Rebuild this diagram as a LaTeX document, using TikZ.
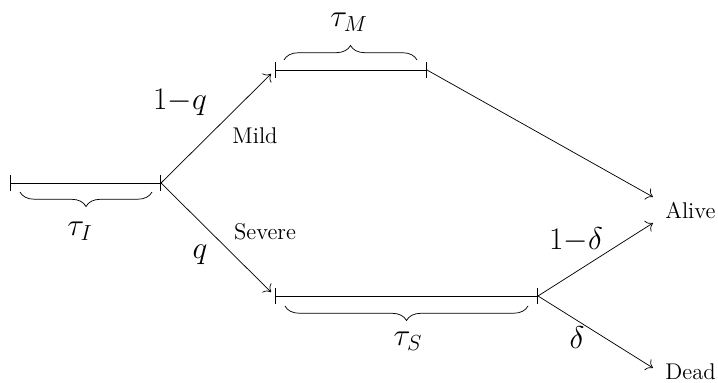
\documentclass[tikz,border=0pt]{standalone}
\usepackage{amsmath,amssymb}
\usetikzlibrary{arrows.meta, positioning, calc, decorations.pathreplacing}

\tikzset{
  phase/.style={{Bar[width=9pt]}-{Bar[width=9pt]}},
  branch/.style={-{To[length=3.5pt,width=7pt]}},
  span/.style={decorate, decoration={brace, amplitude=8pt}},
  maths/.style={font=\fontsize{16.5}{19}\selectfont},
  word/.style={font=\fontsize{12.5}{15}\selectfont, inner sep=0pt}
}

\begin{document}
\begin{tikzpicture}[x=0.55pt, y=-0.55pt]
  \useasboundingbox (0,0) rectangle (718,383);

  % Phase end points
  \coordinate (inf0) at (10,183);
  \coordinate (inf1) at (161,183);
  \coordinate (mild0) at (275,70);
  \coordinate (mild1) at (427,70);
  \coordinate (sev0) at (275,296);
  \coordinate (sev1) at (538,296);

  % Outcomes
  \node[word, anchor=west] (alive) at (665,211) {Alive};
  \node[word, anchor=west] (dead) at (665,372) {Dead};
  \coordinate (alivetop) at (653,197);
  \coordinate (alivebot) at (653,223);
  \coordinate (deadin) at (653,368);

  % Phases
  \draw[phase] (inf0) -- (inf1);
  \draw[phase] (mild0) -- (mild1);
  \draw[phase] (sev0) -- (sev1);

  % Durations
  \draw[span, decoration={mirror}] ($(inf0)+(10,9)$) -- ($(inf1)+(-9,9)$);
  \node[maths] (tauI) at (80,231) {$\tau_I$};
  \draw[span] ($(mild0)+(9,-10)$) -- ($(mild1)+(-10,-10)$);
  \node[maths] (tauM) at (349,22) {$\tau_M$};
  \draw[span, decoration={mirror}] ($(sev0)+(10,10)$) -- ($(sev1)+(-10,10)$);
  \node[maths] (tauS) at (408,341) {$\tau_S$};

  % Branches
  \draw[branch, shorten >=3pt] (inf1) -- (mild0);
  \draw[branch, shorten >=3pt] (inf1) -- (sev0);
  \draw[branch] (mild1) -- (alivetop);
  \draw[branch] (sev1) -- (alivebot);
  \draw[branch] (sev1) -- (deadin);

  % Branch labels
  \node[maths] (pmild) at (180,102) {$1{-}q$};
  \node[word] (mild) at (255,136) {Mild};
  \node[word] (severe) at (265,232) {Severe};
  \node[maths] (psev) at (200,255) {$q$};
  \node[maths] (palive) at (576,240) {$1{-}\delta$};
  \node[maths] (pdead) at (577,338) {$\delta$};
\end{tikzpicture}
\end{document}
